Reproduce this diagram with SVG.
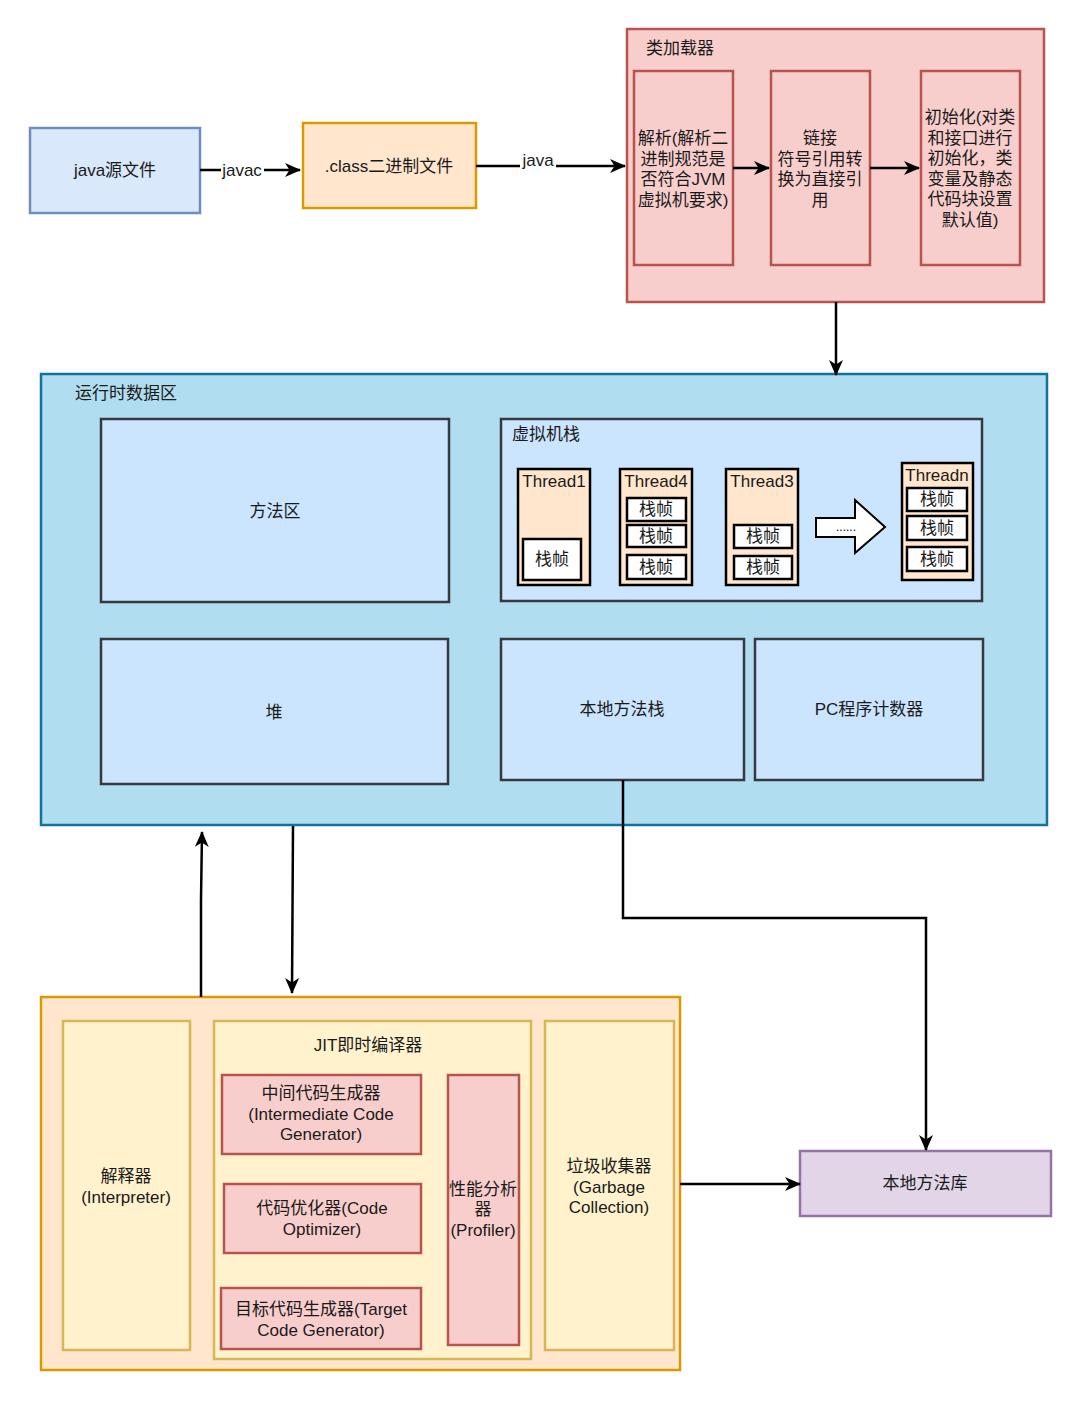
<svg xmlns="http://www.w3.org/2000/svg" width="1080" height="1401" viewBox="0 0 1080 1401">
<defs>
<style>
text{font-family:"Liberation Sans","Noto Sans CJK SC",sans-serif;font-size:17px;fill:#1a1a1a}
.c{text-anchor:middle}
.blue{fill:#dae8fc;stroke:#6c8ebf;stroke-width:2.5}
.orange{fill:#ffe6cc;stroke:#d79b00;stroke-width:2.5}
.red{fill:#f8cecc;stroke:#b85450;stroke-width:2.5}
.rt{fill:#b1ddf0;stroke:#10739e;stroke-width:2.5}
.area{fill:#cce5ff;stroke:#36393d;stroke-width:2.5}
.yel{fill:#fff2cc;stroke:#d6b656;stroke-width:2.5}
.purple{fill:#e1d5e7;stroke:#9673a6;stroke-width:2.5}
.thr{fill:#ffe6cc;stroke:#000;stroke-width:2.5}
.frm{fill:#fff;stroke:#000;stroke-width:2.5}
.conn{fill:none;stroke:#000;stroke-width:2.5}
</style>
<marker id="arr" viewBox="0 0 16 14" refX="15" refY="7" markerWidth="16" markerHeight="14" markerUnits="userSpaceOnUse" orient="auto">
<path d="M0,0 L16,7 L0,14 L4.5,7 z" fill="#000"/>
</marker>
</defs>
<rect width="1080" height="1401" fill="#fff"/>

<g id="java-src">
<rect class="blue" x="30" y="128" width="170" height="85"/>
<text class="c" x="115" y="176">java源文件</text>
</g>
<g id="class-file">
<rect class="orange" x="303" y="123" width="173" height="85"/>
<text class="c" x="389" y="172">.class二进制文件</text>
</g>

<g id="class-loader">
<rect class="red" x="627" y="29" width="417" height="273"/>
<text x="646" y="54">类加载器</text>
</g>
<g id="parse">
<rect class="red" x="634" y="71" width="99" height="194"/>
<text class="c" x="683" y="144">解析(解析二</text>
<text class="c" x="683" y="164.5">进制规范是</text>
<text class="c" x="683" y="185">否符合JVM</text>
<text class="c" x="683" y="205.5">虚拟机要求)</text>
</g>
<g id="link">
<rect class="red" x="771" y="71" width="99" height="194"/>
<text class="c" x="820" y="144">链接</text>
<text class="c" x="820" y="164.5">符号引用转</text>
<text class="c" x="820" y="185">换为直接引</text>
<text class="c" x="820" y="205.5">用</text>
</g>
<g id="init">
<rect class="red" x="921" y="71" width="99" height="194"/>
<text class="c" x="970" y="123">初始化(对类</text>
<text class="c" x="970" y="143.5">和接口进行</text>
<text class="c" x="970" y="164">初始化，类</text>
<text class="c" x="970" y="184.5">变量及静态</text>
<text class="c" x="970" y="205">代码块设置</text>
<text class="c" x="970" y="225.5">默认值)</text>
</g>

<g id="runtime">
<rect class="rt" x="41" y="374" width="1006" height="451"/>
<text x="75" y="399">运行时数据区</text>
</g>
<g id="method-area">
<rect class="area" x="101" y="419" width="348" height="183"/>
<text class="c" x="275" y="517">方法区</text>
</g>
<g id="heap">
<rect class="area" x="101" y="639" width="347" height="145"/>
<text class="c" x="274" y="718">堆</text>
</g>
<g id="vm-stack">
<rect class="area" x="501" y="419" width="481" height="182"/>
<text x="512" y="440">虚拟机栈</text>
</g>
<g id="thread1">
<rect class="thr" x="518" y="469" width="72" height="116"/>
<text class="c" x="554" y="487">Thread1</text>
<rect class="frm" x="523" y="539" width="58" height="41"/>
<text class="c" x="552" y="565">栈帧</text>
</g>
<g id="thread4">
<rect class="thr" x="620" y="469" width="72" height="116"/>
<text class="c" x="656" y="487">Thread4</text>
<rect class="frm" x="627" y="498" width="59" height="23"/>
<text class="c" x="656" y="515">栈帧</text>
<rect class="frm" x="627" y="525" width="59" height="22"/>
<text class="c" x="656" y="542">栈帧</text>
<rect class="frm" x="627" y="555" width="59" height="24"/>
<text class="c" x="656" y="573">栈帧</text>
</g>
<g id="thread3">
<rect class="thr" x="726" y="469" width="72" height="116"/>
<text class="c" x="762" y="487">Thread3</text>
<rect class="frm" x="734" y="525" width="58" height="23"/>
<text class="c" x="763" y="542">栈帧</text>
<rect class="frm" x="734" y="556" width="58" height="23"/>
<text class="c" x="763" y="573">栈帧</text>
</g>
<g id="more-arrow">
<polygon points="816,518 855,518 855,500 885,527 855,553 855,537 816,537" fill="#fff" stroke="#000" stroke-width="2"/>
<text x="836" y="531" style="font-size:12px;fill:#000">......</text>
</g>
<g id="threadn">
<rect class="thr" x="902" y="463" width="71" height="117"/>
<text class="c" x="937" y="481">Threadn</text>
<rect class="frm" x="907" y="488" width="60" height="23"/>
<text class="c" x="937" y="505">栈帧</text>
<rect class="frm" x="907" y="516" width="60" height="24"/>
<text class="c" x="937" y="534">栈帧</text>
<rect class="frm" x="907" y="547" width="60" height="24"/>
<text class="c" x="937" y="565">栈帧</text>
</g>
<g id="native-stack">
<rect class="area" x="501" y="639" width="243" height="141"/>
<text class="c" x="622" y="715">本地方法栈</text>
</g>
<g id="pc">
<rect class="area" x="755" y="639" width="228" height="141"/>
<text class="c" x="869" y="715">PC程序计数器</text>
</g>

<g id="engine">
<rect class="orange" x="41" y="997" width="639" height="373"/>
</g>
<g id="interpreter">
<rect class="yel" x="63" y="1021" width="127" height="329"/>
<text class="c" x="126" y="1182">解释器</text>
<text class="c" x="126" y="1203">(Interpreter)</text>
</g>
<g id="jit">
<rect class="yel" x="214" y="1021" width="317" height="338"/>
<text class="c" x="368" y="1051">JIT即时编译器</text>
</g>
<g id="icg">
<rect class="red" x="222" y="1075" width="199" height="79"/>
<text class="c" x="321" y="1099">中间代码生成器</text>
<text class="c" x="321" y="1119.5">(Intermediate Code</text>
<text class="c" x="321" y="1140">Generator)</text>
</g>
<g id="optimizer">
<rect class="red" x="224" y="1184" width="197" height="69"/>
<text class="c" x="322" y="1214">代码优化器(Code</text>
<text class="c" x="322" y="1235">Optimizer)</text>
</g>
<g id="tcg">
<rect class="red" x="221" y="1288" width="200" height="61"/>
<text class="c" x="321" y="1315">目标代码生成器(Target</text>
<text class="c" x="321" y="1336">Code Generator)</text>
</g>
<g id="profiler">
<rect class="red" x="448" y="1075" width="71" height="270"/>
<text class="c" x="483" y="1195">性能分析</text>
<text class="c" x="483" y="1215">器</text>
<text class="c" x="483" y="1235.5">(Profiler)</text>
</g>
<g id="gc">
<rect class="yel" x="545" y="1021" width="129" height="329"/>
<text class="c" x="609" y="1172">垃圾收集器</text>
<text class="c" x="609" y="1192.5">(Garbage</text>
<text class="c" x="609" y="1213">Collection)</text>
</g>
<g id="native-lib">
<rect class="purple" x="800" y="1151" width="251" height="65"/>
<text class="c" x="925" y="1189">本地方法库</text>
</g>

<g id="connectors">
<path class="conn" d="M200 170 H300" marker-end="url(#arr)"/>
<rect x="221" y="160" width="43" height="19" fill="#fff"/>
<text class="c" x="242" y="176">javac</text>
<path class="conn" d="M476 166 H625" marker-end="url(#arr)"/>
<rect x="520" y="152" width="36" height="17" fill="#fff"/>
<text class="c" x="538" y="166">java</text>
<path class="conn" d="M733 168 H769" marker-end="url(#arr)"/>
<path class="conn" d="M870 168 H919" marker-end="url(#arr)"/>
<path class="conn" d="M836 302 V375" marker-end="url(#arr)"/>
<path class="conn" d="M201 997 V900 L202 832" marker-end="url(#arr)"/>
<path class="conn" d="M293 826 L292 993" marker-end="url(#arr)"/>
<path class="conn" d="M623 780 V918 H926 V1150" marker-end="url(#arr)"/>
<path class="conn" d="M680 1184 H800" marker-end="url(#arr)"/>
</g>
</svg>
